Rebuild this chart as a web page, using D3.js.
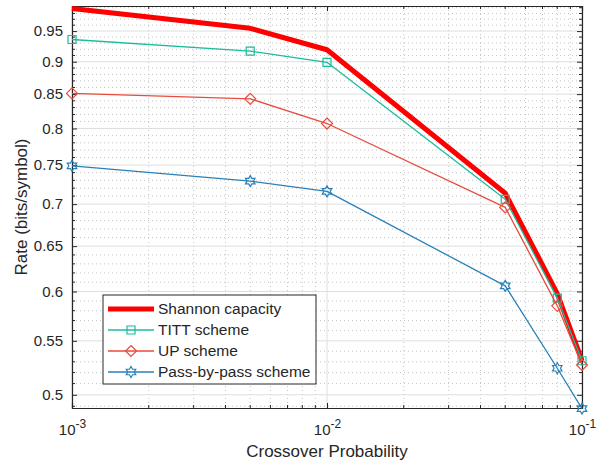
<!DOCTYPE html>
<html>
<head>
<meta charset="utf-8">
<script src="https://cdn.jsdelivr.net/npm/d3@7"></script>
<style>
  body { margin: 0; background: #fff; }
  text { font-family: "Liberation Sans", Arial, sans-serif; fill: #262626; }
</style>
</head>
<body>
<script>
// data
var probs = [0.001, 0.005, 0.01, 0.05, 0.08, 0.1];
var shannon = [0.9886, 0.9546, 0.9192, 0.7136, 0.5978, 0.5310];
var titt = [0.936, 0.917, 0.899, 0.706, 0.593, 0.531];
var up = [0.851, 0.843, 0.807, 0.696, 0.585, 0.527];
var pbp = [0.749, 0.729, 0.716, 0.606, 0.524, 0.488];
var yTicks = [0.5, 0.55, 0.6, 0.65, 0.7, 0.75, 0.8, 0.85, 0.9, 0.95];
var xTicks = [0.001, 0.01, 0.1];
var seriesNames = ["Shannon capacity", "TITT scheme", "UP scheme", "Pass-by-pass scheme"];

var width = 598, height = 461;
var margin = {top: 6, right: 16, bottom: 53, left: 72};
var iwidth = width - margin.left - margin.right,
    iheight = height - margin.top - margin.bottom;

var axisColor = "#262626";

var svg = d3.select("body").append("svg")
    .attr("width", width)
    .attr("height", height);

var x = d3.scaleLog().domain([0.001, 0.1]).range([0, iwidth]);
var y = d3.scaleLog().domain([0.4885, 0.993]).range([iheight, 0]);

var g = svg.append("g")
    .attr("transform", "translate(" + margin.left + "," + margin.top + ")");

// minor values
var xMinor = [];
[0.001, 0.01].forEach(function(d) {
    for (var k = 2; k <= 9; k++) xMinor.push(d * k);
});
var yMinor = d3.range(49, 100).map(function(d) { return d / 100; })
    .filter(function(v) { return v >= 0.4885 && v <= 0.993 && Math.round(v * 100) % 5 !== 0; });

// grid
g.selectAll(".xminor").data(xMinor).enter().append("line")
    .attr("x1", function(d) { return x(d); }).attr("x2", function(d) { return x(d); })
    .attr("y1", 0).attr("y2", iheight)
    .attr("stroke", "#c4c4c4").attr("stroke-dasharray", "1,3");
g.selectAll(".yminor").data(yMinor).enter().append("line")
    .attr("y1", function(d) { return y(d); }).attr("y2", function(d) { return y(d); })
    .attr("x1", 0).attr("x2", iwidth)
    .attr("stroke", "#c4c4c4").attr("stroke-dasharray", "1,3");
g.selectAll(".xmajor").data(xTicks).enter().append("line")
    .attr("x1", function(d) { return x(d); }).attr("x2", function(d) { return x(d); })
    .attr("y1", 0).attr("y2", iheight)
    .attr("stroke", "#dedede");
g.selectAll(".ymajor").data(yTicks).enter().append("line")
    .attr("y1", function(d) { return y(d); }).attr("y2", function(d) { return y(d); })
    .attr("x1", 0).attr("x2", iwidth)
    .attr("stroke", "#dedede");

// axes with inward ticks on all four sides
function tickFmt10(sel) {
    sel.each(function(d) {
        var t = d3.select(this);
        t.text(null);
        t.append("tspan").text("10");
        t.append("tspan").attr("dy", "-0.55em").attr("font-size", "12px")
            .text(String(Math.round(Math.log10(d))));
    });
}

var xAxis = g.append("g").attr("transform", "translate(0," + iheight + ")")
    .call(d3.axisBottom(x).tickValues(xTicks).tickSize(-5).tickPadding(16).tickFormat(function(d) { return d; }));
xAxis.selectAll("text").attr("font-size", "15px").attr("dy", "0.71em").call(tickFmt10);

var xTop = g.append("g")
    .call(d3.axisTop(x).tickValues(xTicks).tickSize(-5).tickFormat(""));

var yAxis = g.append("g")
    .call(d3.axisLeft(y).tickValues(yTicks).tickSize(-5).tickPadding(9).tickFormat(d3.format("")));
yAxis.selectAll("text").attr("font-size", "15px");

var yRight = g.append("g").attr("transform", "translate(" + iwidth + ",0)")
    .call(d3.axisRight(y).tickValues(yTicks).tickSize(-5).tickFormat(""));

[xAxis, xTop, yAxis, yRight].forEach(function(a) {
    a.select(".domain").attr("stroke", axisColor).attr("stroke-width", 1.2);
    a.selectAll(".tick line").attr("stroke", axisColor);
    a.selectAll("text").attr("fill", axisColor);
});

// minor ticks
g.selectAll(".xmt").data(xMinor).enter().append("line")
    .attr("x1", function(d) { return x(d); }).attr("x2", function(d) { return x(d); })
    .attr("y1", iheight).attr("y2", iheight - 3).attr("stroke", axisColor);
g.selectAll(".xmtt").data(xMinor).enter().append("line")
    .attr("x1", function(d) { return x(d); }).attr("x2", function(d) { return x(d); })
    .attr("y1", 0).attr("y2", 3).attr("stroke", axisColor);
g.selectAll(".ymt").data(yMinor).enter().append("line")
    .attr("y1", function(d) { return y(d); }).attr("y2", function(d) { return y(d); })
    .attr("x1", 0).attr("x2", 3).attr("stroke", axisColor);
g.selectAll(".ymtr").data(yMinor).enter().append("line")
    .attr("y1", function(d) { return y(d); }).attr("y2", function(d) { return y(d); })
    .attr("x1", iwidth).attr("x2", iwidth - 3).attr("stroke", axisColor);

// markers
function hexagram(r) {
    var pts = [];
    for (var i = 0; i < 12; i++) {
        var a = -Math.PI / 2 + i * Math.PI / 6;
        var rr = i % 2 === 0 ? r : r / Math.sqrt(3);
        pts.push([rr * Math.cos(a), rr * Math.sin(a)]);
    }
    return "M" + pts.map(function(p) { return p[0].toFixed(2) + "," + p[1].toFixed(2); }).join("L") + "Z";
}
function square(r) { return "M" + (-r) + "," + (-r) + "h" + (2 * r) + "v" + (2 * r) + "h" + (-2 * r) + "Z"; }
function diamond(r) { return "M0," + (-r) + "L" + r + ",0L0," + r + "L" + (-r) + ",0Z"; }

var series = [
    {name: seriesNames[0], values: shannon, color: "#ff0000", width: 5, marker: null},
    {name: seriesNames[1], values: titt, color: "#1abc9c", width: 1.3, marker: square(4)},
    {name: seriesNames[2], values: up, color: "#e74c3c", width: 1.3, marker: diamond(5.5)},
    {name: seriesNames[3], values: pbp, color: "#2980b9", width: 1.3, marker: hexagram(5.5)}
];

var line = d3.line()
    .x(function(d, i) { return x(probs[i]); })
    .y(function(d) { return y(d); });

series.forEach(function(s) {
    var sg = g.append("g");
    sg.append("path")
        .datum(s.values)
        .attr("d", line)
        .attr("fill", "none")
        .attr("stroke", s.color)
        .attr("stroke-width", s.width)
        .attr("stroke-linejoin", "round");
    if (s.marker) {
        sg.selectAll("path.m").data(s.values).enter().append("path")
            .attr("class", "m")
            .attr("d", s.marker)
            .attr("transform", function(d, i) { return "translate(" + x(probs[i]) + "," + y(d) + ")"; })
            .attr("fill", "none")
            .attr("stroke", s.color)
            .attr("stroke-width", 1.2);
    }
});

// legend
var lg = svg.append("g").attr("transform", "translate(103,295)");
lg.append("rect").attr("width", 213).attr("height", 89)
    .attr("fill", "#fff").attr("stroke", axisColor).attr("stroke-width", 1);
series.forEach(function(s, i) {
    var ly = 14 + i * 21;
    lg.append("line").attr("x1", 5).attr("x2", 51).attr("y1", ly).attr("y2", ly)
        .attr("stroke", s.color).attr("stroke-width", s.width);
    if (s.marker) {
        lg.append("path").attr("d", s.marker)
            .attr("transform", "translate(28," + ly + ")")
            .attr("fill", "none").attr("stroke", s.color).attr("stroke-width", 1.2);
    }
    lg.append("text").attr("x", 55).attr("y", ly).attr("dy", "0.35em")
        .attr("font-size", "15.5px").text(s.name);
});

// axis labels
svg.append("text")
    .attr("x", margin.left + iwidth / 2).attr("y", 457)
    .attr("text-anchor", "middle").attr("font-size", "17px")
    .text("Crossover Probability");
svg.append("text")
    .attr("transform", "translate(27," + (margin.top + iheight / 2) + ") rotate(-90)")
    .attr("text-anchor", "middle").attr("font-size", "17px")
    .text("Rate (bits/symbol)");
</script>
</body>
</html>
